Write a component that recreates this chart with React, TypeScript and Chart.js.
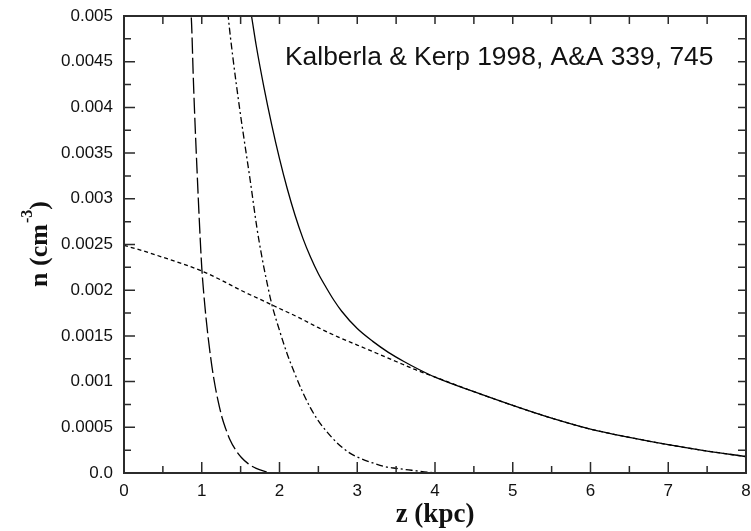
import React, { useEffect, useRef } from 'react';
import { Chart, registerables } from 'chart.js';

Chart.register(...registerables);

// ---- data ----
const zSolid = [1.60, 1.64, 1.70, 1.80, 1.90, 2.00, 2.10, 2.20, 2.30, 2.40, 2.50, 2.60, 2.70, 2.80, 3.00, 3.20, 3.40, 3.60, 3.80, 4.00, 4.50, 5.00, 5.50, 6.00, 6.50, 7.00, 7.50, 8.00];
const nSolid = [0.00520, 0.00500, 0.00468, 0.00422, 0.00381, 0.00344, 0.00311, 0.00282, 0.00257, 0.00236, 0.00218, 0.00203, 0.00189, 0.00177, 0.00158, 0.00144, 0.00132, 0.00122, 0.00113, 0.00105, 0.00089, 0.00074, 0.00060, 0.00048, 0.00039, 0.00031, 0.00024, 0.00018];

const zDotted = [0, 0.25, 0.5, 0.75, 1.0, 1.25, 1.5, 1.75, 2.0, 2.25, 2.5, 2.75, 3.0, 3.25, 3.5, 3.75, 4.0, 4.5, 5.0, 5.5, 6.0, 6.5, 7.0, 7.5, 8.0];
const nDotted = [0.00249, 0.00243, 0.00236, 0.00229, 0.00221, 0.00211, 0.00200, 0.00190, 0.00180, 0.00170, 0.00159, 0.00149, 0.00140, 0.00131, 0.00122, 0.00113, 0.00105, 0.00089, 0.00074, 0.00060, 0.00048, 0.00039, 0.00031, 0.00024, 0.00018];

const zDashDot = [1.32, 1.34, 1.40, 1.49, 1.55, 1.62, 1.71, 1.77, 1.84, 1.90, 2.00, 2.10, 2.20, 2.30, 2.40, 2.50, 2.60, 2.74, 2.90, 3.04, 3.20, 3.35, 3.51, 3.70, 3.90, 4.10, 4.30];
const nDashDot = [0.00520, 0.00500, 0.00455, 0.00397, 0.00362, 0.00322, 0.00268, 0.00238, 0.00208, 0.00185, 0.00156, 0.00130, 0.00108, 0.00088, 0.00071, 0.00057, 0.00046, 0.00033, 0.00022, 0.00016, 0.00011, 0.00007, 0.00005, 0.00003, 0.00001, 0.0, 0.0];

const zDash = [0.85, 0.87, 0.89, 0.91, 0.94, 0.97, 1.00, 1.04, 1.08, 1.13, 1.17, 1.21, 1.26, 1.31, 1.36, 1.43, 1.51, 1.60, 1.70, 1.80, 1.90, 2.00];
const nDash = [0.00520, 0.00490, 0.00436, 0.00390, 0.00330, 0.00274, 0.00225, 0.00183, 0.00150, 0.00117, 0.00096, 0.00079, 0.00061, 0.00048, 0.00037, 0.00026, 0.00017, 0.00010, 0.00005, 0.00002, 0.0, 0.0];

// ---- axes / ticks ----
const xTickValues = [0, 1, 2, 3, 4, 5, 6, 7, 8];
const xTickLabels = ['0', '1', '2', '3', '4', '5', '6', '7', '8'];
const xMinorTicks = [0.5, 1.5, 2.5, 3.5, 4.5, 5.5, 6.5, 7.5];
const yTickValues = [0, 0.0005, 0.001, 0.0015, 0.002, 0.0025, 0.003, 0.0035, 0.004, 0.0045, 0.005];
const yTickLabels = ['0.0', '0.0005', '0.001', '0.0015', '0.002', '0.0025', '0.003', '0.0035', '0.004', '0.0045', '0.005'];
const yMinorTicks = [0.00025, 0.00075, 0.00125, 0.00175, 0.00225, 0.00275, 0.00325, 0.00375, 0.00425, 0.00475];

const xTitle = 'z (kpc)';
const yTitleMain = 'n (cm';
const yTitleSup = '-3';
const yTitleEnd = ')';
const annotationText = 'Kalberla & Kerp 1998, A&A 339, 745';

const SANS = "'Liberation Sans', Arial, Helvetica, sans-serif";
const SERIF = "'Liberation Serif', 'Times New Roman', Times, serif";
const INK = '#111';
const AXIS = '#2b2b2b';

const toPts = (zs: number[], ns: number[]) => zs.map((z, i) => ({ x: z, y: ns[i] }));

const decorPlugin = {
  id: 'decor',
  afterDraw(chart: any) {
    const { ctx, chartArea: a, scales } = chart;
    const xs = scales.x;
    const ys = scales.y;
    ctx.save();
    ctx.strokeStyle = AXIS;
    ctx.lineWidth = 1.5;
    ctx.beginPath();
    const seg = (x1: number, y1: number, x2: number, y2: number) => {
      ctx.moveTo(x1, y1);
      ctx.lineTo(x2, y2);
    };
    xTickValues.forEach((v) => {
      const p = xs.getPixelForValue(v);
      seg(p, a.bottom, p, a.bottom - 11);
      seg(p, a.top, p, a.top + 8);
    });
    xMinorTicks.forEach((v) => {
      const p = xs.getPixelForValue(v);
      seg(p, a.bottom, p, a.bottom - 7);
      seg(p, a.top, p, a.top + 8);
    });
    yTickValues.forEach((v) => {
      const p = ys.getPixelForValue(v);
      seg(a.left, p, a.left + 11, p);
      seg(a.right, p, a.right - 8, p);
    });
    yMinorTicks.forEach((v) => {
      const p = ys.getPixelForValue(v);
      seg(a.left, p, a.left + 7, p);
      seg(a.right, p, a.right - 8, p);
    });
    ctx.stroke();
    ctx.lineWidth = 2;
    ctx.strokeRect(a.left, a.top, a.right - a.left, a.bottom - a.top);

    ctx.fillStyle = INK;
    ctx.textBaseline = 'alphabetic';
    ctx.textAlign = 'left';
    ctx.font = `26.4px ${SANS}`;
    ctx.fillText(annotationText, a.left + 161, a.top + 49);

    ctx.textAlign = 'center';
    ctx.font = `bold 27px ${SERIF}`;
    ctx.fillText(xTitle, (a.left + a.right) / 2, a.bottom + 49);

    const cy = (a.top + a.bottom) / 2;
    ctx.translate(a.left - 77, cy);
    ctx.rotate(-Math.PI / 2);
    ctx.textAlign = 'left';
    const mainFont = `bold 26px ${SERIF}`;
    const supFont = `bold 16px ${SERIF}`;
    ctx.font = mainFont;
    const wMain = ctx.measureText(yTitleMain).width;
    const wEnd = ctx.measureText(yTitleEnd).width;
    ctx.font = supFont;
    const wSup = ctx.measureText(yTitleSup).width;
    const start = -(wMain + wSup + wEnd) / 2;
    ctx.font = mainFont;
    ctx.fillText(yTitleMain, start, 0);
    ctx.font = supFont;
    ctx.fillText(yTitleSup, start + wMain + 1, -15);
    ctx.font = mainFont;
    ctx.fillText(yTitleEnd, start + wMain + wSup + 1, 0);
    ctx.restore();
  },
};

export default function App() {
  const canvasRef = useRef<HTMLCanvasElement | null>(null);

  useEffect(() => {
    const canvas = canvasRef.current;
    if (!canvas) return;
    const line = (data: { x: number; y: number }[], dash: number[], width = 1.3) => ({
      data,
      borderColor: '#000',
      borderWidth: width,
      borderDash: dash,
      pointRadius: 0,
      fill: false,
      cubicInterpolationMode: 'monotone' as const,
    });
    const chart = new Chart(canvas, {
      type: 'line',
      data: {
        datasets: [
          line(toPts(zDotted, nDotted), [4, 3]),
          line(toPts(zDash, nDash), [16, 4]),
          line(toPts(zDashDot, nDashDot), [7, 3, 2, 3]),
          line(toPts(zSolid, nSolid), []),
        ],
      },
      options: {
        responsive: false,
        animation: false,
        events: [],
        layout: { padding: { left: 0, top: 16, right: 5, bottom: 0 } },
        plugins: { legend: { display: false }, tooltip: { enabled: false } },
        scales: {
          x: {
            type: 'linear',
            min: 0,
            max: 8,
            grid: { display: false, drawTicks: false },
            border: { display: false },
            afterBuildTicks: (s: any) => {
              s.ticks = xTickValues.map((v) => ({ value: v }));
            },
            afterFit: (s: any) => {
              s.height = 58;
              s.paddingLeft = 0;
              s.paddingRight = 0;
            },
            ticks: {
              autoSkip: false,
              maxRotation: 0,
              padding: 8,
              color: INK,
              font: { family: SANS, size: 17 },
              callback: (_v: any, i: number) => xTickLabels[i],
            },
          },
          y: {
            type: 'linear',
            min: 0,
            max: 0.005,
            grid: { display: false, drawTicks: false },
            border: { display: false },
            afterBuildTicks: (s: any) => {
              s.ticks = yTickValues.map((v) => ({ value: v }));
            },
            afterFit: (s: any) => {
              s.width = 124;
              s.paddingTop = 0;
              s.paddingBottom = 0;
            },
            ticks: {
              autoSkip: false,
              padding: 11,
              color: INK,
              font: { family: SANS, size: 17 },
              callback: (_v: any, i: number) => yTickLabels[i],
            },
          },
        },
      },
      plugins: [decorPlugin],
    });
    return () => chart.destroy();
  }, []);

  return (
    <div style={{ position: 'fixed', left: 0, top: 0, width: 751, height: 531, background: '#fff' }}>
      <canvas ref={canvasRef} width={751} height={531} style={{ width: 751, height: 531, display: 'block' }} />
    </div>
  );
}
